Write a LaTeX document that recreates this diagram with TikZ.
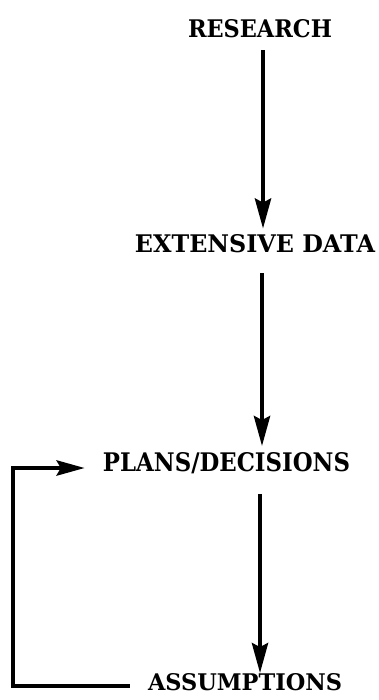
\documentclass[tikz,border=0pt]{standalone}
\usepackage{fontspec}
\setmainfont{DejaVu Serif}
\usetikzlibrary{arrows.meta}
\begin{document}
\begin{tikzpicture}[x=1pt,y=-1pt,
  lbl/.style={inner sep=0pt, font=\bfseries},
  flow/.style={line width=4.5pt, -{Stealth[length=30pt,width=16pt,inset=4pt]}},
  fb/.style={line width=4.5pt, line join=miter, -{Stealth[length=28pt,width=15pt,inset=4pt]}}]
\useasboundingbox (0,0) rectangle (378,700);
\node[lbl] (r) at (260,29) {\resizebox{144pt}{18pt}{RESEARCH}};
\node[lbl] (e) at (255,244) {\resizebox{240pt}{18pt}{EXTENSIVE DATA}};
\node[lbl] (p) at (226.5,463) {\resizebox{247pt}{19pt}{PLANS/DECISIONS}};
\node[lbl] (a) at (245,682) {\resizebox{194pt}{17pt}{ASSUMPTIONS}};
\coordinate (x1) at (263,0);
\coordinate (x2) at (262,0);
\coordinate (x3) at (260,0);
\draw[flow, shorten <=12pt, shorten >=6pt] (r.south -| x1) -- (e.north -| x1);
\draw[flow, shorten <=20pt, shorten >=6pt] (e.south -| x2) -- (p.north -| x2);
\draw[flow, shorten <=20pt, shorten >=0pt] (p.south -| x3) -- (a.north -| x3);
\draw[fb] ([xshift=-18pt,yshift=-4pt]a.west) -| ([xshift=-90pt,yshift=-5pt]p.west) -- ([xshift=-18pt,yshift=-5pt]p.west);
\end{tikzpicture}
\end{document}
